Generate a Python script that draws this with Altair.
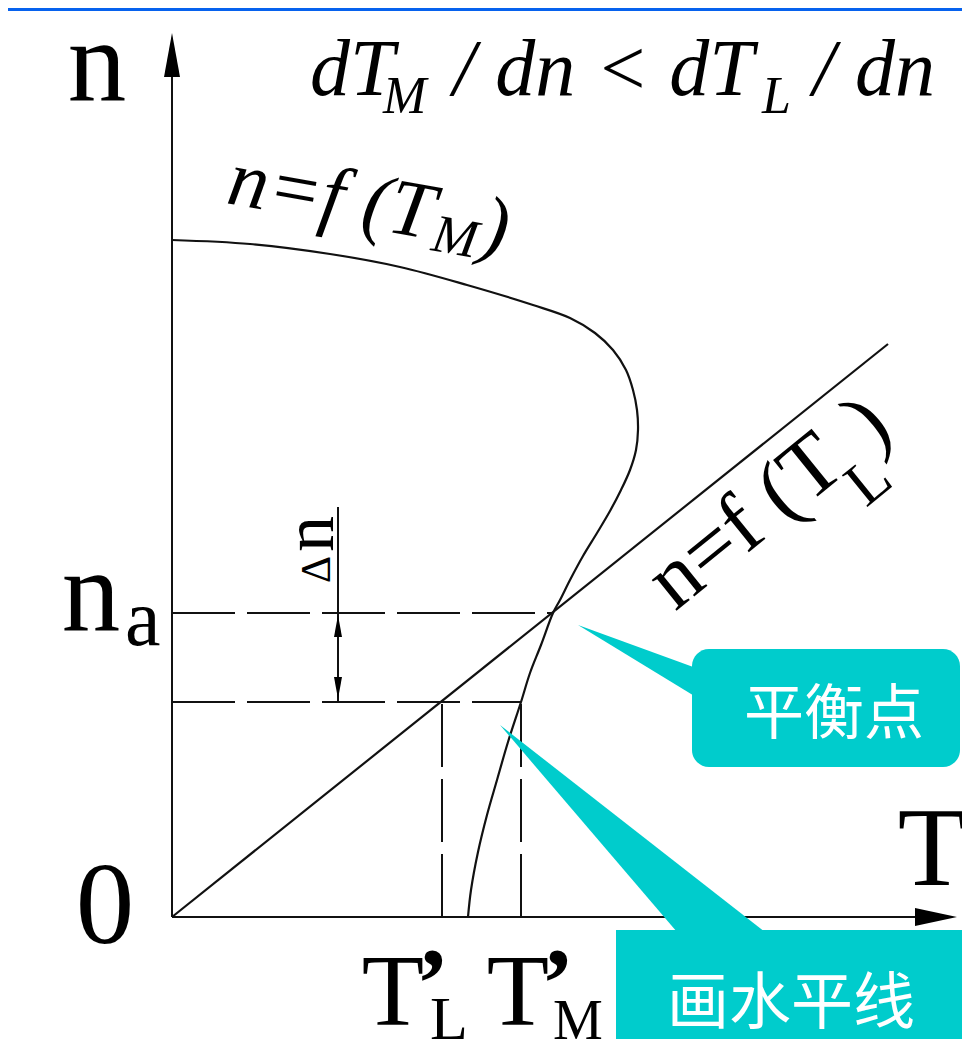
import altair as alt
import pandas as pd

# ---------------- data (T = torque axis, n = speed axis; schematic units) ----------------
# motor characteristic n = f(T_M)
tm_T = [0, 78, 158, 228, 295, 361, 398, 423, 441, 454, 461, 465, 466, 464, 458, 449, 438,
        425, 411, 398, 388, 381, 369, 358, 349, 336, 325, 315, 306, 299, 296]
tm_n = [677, 673, 663, 650, 632, 612, 599, 584, 567, 547, 527, 507, 487, 467, 447, 427, 406,
        384, 361, 337, 317, 304, 272, 244, 215, 175, 137, 102, 65, 27, 0]
# load characteristic n = f(T_L)
tl_T = [0, 716]
tl_n = [0, 573]
# key levels
n_a = 304          # equilibrium speed
n_low = 215        # lowered speed (n_a - delta n)
T_eq = 381         # torque at equilibrium
T_L_prime = 270    # T'_L
T_M_prime = 349    # T'_M
dn_T = 166         # position of the delta-n dimension line
dn_top = 410

SERIF = "Liberation Serif"
CJK = "Noto Sans CJK SC"
TEAL = "#00CCCC"

X = alt.X("T:Q", scale=alt.Scale(domain=[-164, 790], nice=False, zero=False), axis=None)
Y = alt.Y("n:Q", scale=alt.Scale(domain=[-122, 909], nice=False, zero=False), axis=None)


def pts(Ts, ns):
    return pd.DataFrame({"T": Ts, "n": ns, "i": list(range(len(Ts)))})


def seg(T, n, T2, n2):
    return pd.DataFrame({"T": [T], "n": [n], "T2": [T2], "n2": [n2]})


def rule(df, dash=None, width=2):
    kw = {"color": "#111", "strokeWidth": width}
    if dash:
        kw["strokeDash"] = dash
    return alt.Chart(df).mark_rule(**kw).encode(x=X, y=Y, x2=alt.X2("T2:Q"), y2=alt.Y2("n2:Q"))


def line(df, width=2.2, interp="linear"):
    return alt.Chart(df).mark_line(color="#111", strokeWidth=width, interpolate=interp).encode(
        x=X, y=Y, order=alt.Order("i:Q"))


def harea(df, color="#000"):
    return alt.Chart(df).mark_area(orient="horizontal", color=color, opacity=1).encode(
        y=Y, x=X, x2=alt.X2("T2:Q"))


def varea(df, color="#000"):
    return alt.Chart(df).mark_area(orient="vertical", color=color, opacity=1).encode(
        x=X, y=Y, y2=alt.Y2("n2:Q"))


def txt(T, n, s, size, font=SERIF, **kw):
    df = pd.DataFrame({"T": [T], "n": [n], "s": [s]})
    params = dict(fontSize=size, font=font, align="left", baseline="alphabetic", color="#000")
    params.update(kw)
    return alt.Chart(df).mark_text(**params).encode(x=X, y=Y, text="s:N")


layers = []

# slide top band
layers.append(alt.Chart(seg(-164, 906, 790, 915)).mark_rect(color="#0762ee").encode(
    x=X, y=Y, x2=alt.X2("T2:Q"), y2=alt.Y2("n2:Q")))

# axes
layers.append(rule(seg(0, 0, 0, 845)))
layers.append(rule(seg(0, 0, 748, 0)))
layers.append(harea(pd.DataFrame({"n": [884, 840], "T": [0, -8], "T2": [0, 8]})))
layers.append(varea(pd.DataFrame({"T": [743, 785], "n": [-9, 0], "n2": [9, 0]})))

# characteristics
layers.append(line(pts(tm_T, tm_n), interp="catmull-rom"))
layers.append(line(pts(tl_T, tl_n)))

# dashed construction lines
DASH = [63, 12]
layers.append(rule(seg(0, n_a, T_eq, n_a), DASH))
layers.append(rule(seg(0, n_low, T_M_prime, n_low), DASH))
layers.append(rule(seg(T_L_prime, 0, T_L_prime, n_low), DASH))
layers.append(rule(seg(T_M_prime, 0, T_M_prime, n_low), DASH))

# delta n dimension line with arrowheads
layers.append(rule(seg(dn_T, n_low, dn_T, dn_top)))
layers.append(harea(pd.DataFrame({"n": [n_a - 2, n_a - 24], "T": [dn_T, dn_T - 4], "T2": [dn_T, dn_T + 4]})))
layers.append(harea(pd.DataFrame({"n": [n_low + 3, n_low + 25], "T": [dn_T, dn_T - 4], "T2": [dn_T, dn_T + 4]})))

# callout 1: 平衡点
layers.append(varea(pd.DataFrame({"T": [406, 524], "n": [292, 249], "n2": [292, 220]}), TEAL))
layers.append(alt.Chart(seg(520, 150, 788, 268)).mark_rect(color=TEAL, cornerRadius=17).encode(
    x=X, y=Y, x2=alt.X2("T2:Q"), y2=alt.Y2("n2:Q")))
layers.append(txt(662, 201, "平衡点", 60, font=CJK, align="center", baseline="middle", color="white"))

# callout 2: 画水平线
layers.append(harea(pd.DataFrame({"n": [192, -15], "T": [328, 505], "T2": [328, 593]}), TEAL))
layers.append(alt.Chart(seg(444, -140, 800, -13)).mark_rect(color=TEAL).encode(
    x=X, y=Y, x2=alt.X2("T2:Q"), y2=alt.Y2("n2:Q")))
layers.append(txt(619, -88, "画水平线", 62, font=CJK, align="center", baseline="middle", color="white"))

# axis labels
layers.append(txt(-75, 817, "n", 117, align="center"))
layers.append(txt(-67, -26, "0", 117, align="center"))
layers.append(txt(760, 32, "T", 112, align="center"))
layers.append(txt(-81, 287, "n", 117, align="center"))
layers.append(txt(-47, 272, "a", 80))
layers.append(txt(221, -108, "T", 102, align="center"))
layers.append(txt(244, -99, "’", 100, fontWeight="bold"))
layers.append(txt(258, -122, "L", 62))
layers.append(txt(346, -108, "T", 102, align="center"))
layers.append(txt(369, -99, "’", 100, fontWeight="bold"))
layers.append(txt(381, -122, "M", 56))

# delta n label
layers.append(txt(161, 365, "n", 72, angle=270))
layers.append(txt(158, 334, "Δ", 42, angle=270))

# curve labels
layers.append(txt(53, 714, "n=f (T", 80, fontStyle="italic", angle=10))
layers.append(txt(258, 667, "M", 54, fontStyle="italic", angle=10))
layers.append(txt(306, 668, ")", 80, fontStyle="italic", angle=10))

layers.append(txt(503, 305, "n=f (T", 86, angle=321))
layers.append(txt(694, 409, "L", 62, angle=321))
layers.append(txt(701, 465, ")", 86, angle=321))

# title formula
layers.append(txt(138, 822, "dT", 80, fontStyle="italic"))
layers.append(txt(211, 804, "M", 52, fontStyle="italic"))
layers.append(txt(281, 822, "/ dn < dT", 80, fontStyle="italic"))
layers.append(txt(590, 804, "L", 52, fontStyle="italic"))
layers.append(txt(763, 822, "/ dn", 80, fontStyle="italic", align="right"))

chart = alt.layer(*layers).properties(
    width=954, height=1031, padding=0,
    autosize=alt.AutoSizeParams(type="none"),
    background="white",
).configure_view(stroke=None)

chart.save("out.html", embed_options={"renderer": "svg", "actions": False})
